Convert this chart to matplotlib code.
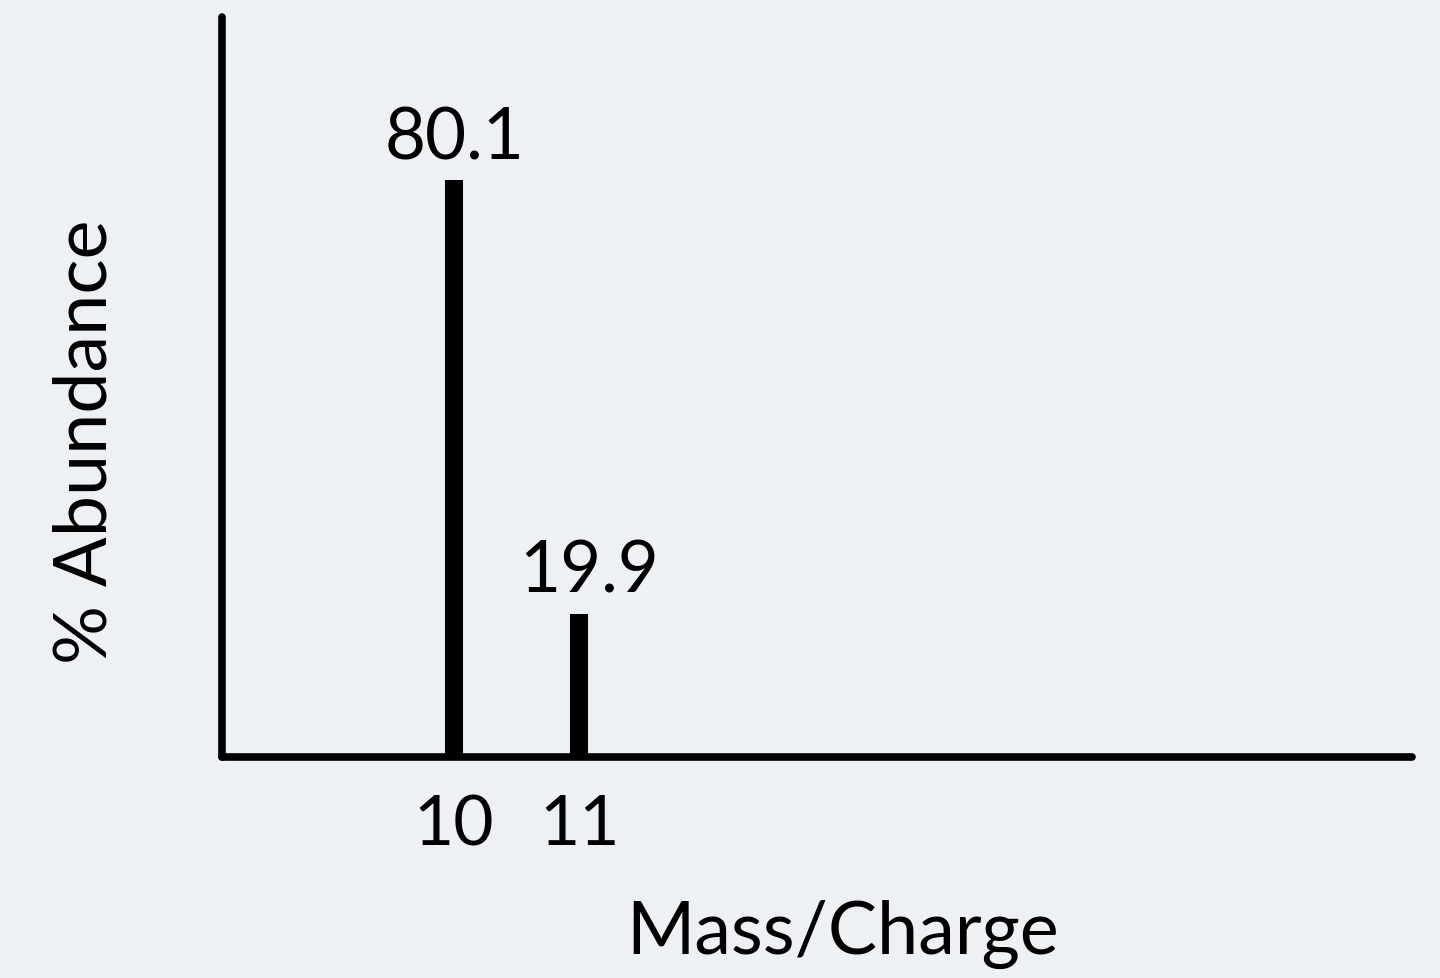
import matplotlib.pyplot as plt

# mass spectrum data
mass_charge = [10, 11]
abundance = [80.1, 19.9]
tick_labels = ['10', '11']

bg = '#edf1f3'
plt.rcParams['font.family'] = ['Lato', 'DejaVu Sans']

fig = plt.figure(figsize=(14.4, 9.79), dpi=100, facecolor=bg)
ax = fig.add_axes([222 / 1440, 1 - 758 / 979, (1412 - 222) / 1440, (758 - 18) / 979])
ax.set_facecolor(bg)

# bars drawn as thick vertical lines
ax.vlines(mass_charge, 0, abundance, colors='black', linewidth=13)

# value labels above each bar (the second one sits a bit right in the original)
offsets = [(0, 7), (7, 7)]
for x, y, off in zip(mass_charge, abundance, offsets):
    ax.annotate(f'{y}', (x, y), xytext=off, textcoords='offset points',
                ha='center', va='bottom', fontsize=51)

ax.set_xlim(8.144, 17.66)
ax.set_ylim(0, 102.7)

ax.set_xticks(mass_charge)
ax.set_xticklabels(tick_labels, fontsize=50)
ax.tick_params(axis='x', length=0, pad=26)
ax.set_yticks([])

for side in ['top', 'right']:
    ax.spines[side].set_visible(False)
for side in ['left', 'bottom']:
    ax.spines[side].set_linewidth(5.5)
    ax.spines[side].set_capstyle('round')

ax.set_xlabel('Mass/Charge', fontsize=53)
ax.xaxis.set_label_coords((843 - 222) / 1190, -(900 - 758) / 740)
ax.set_ylabel('% Abundance', fontsize=53)
ax.yaxis.set_label_coords(-(222 - 120) / 1190, (758 - 442) / 740)

fig.savefig('out.png', dpi=100, facecolor=bg)
